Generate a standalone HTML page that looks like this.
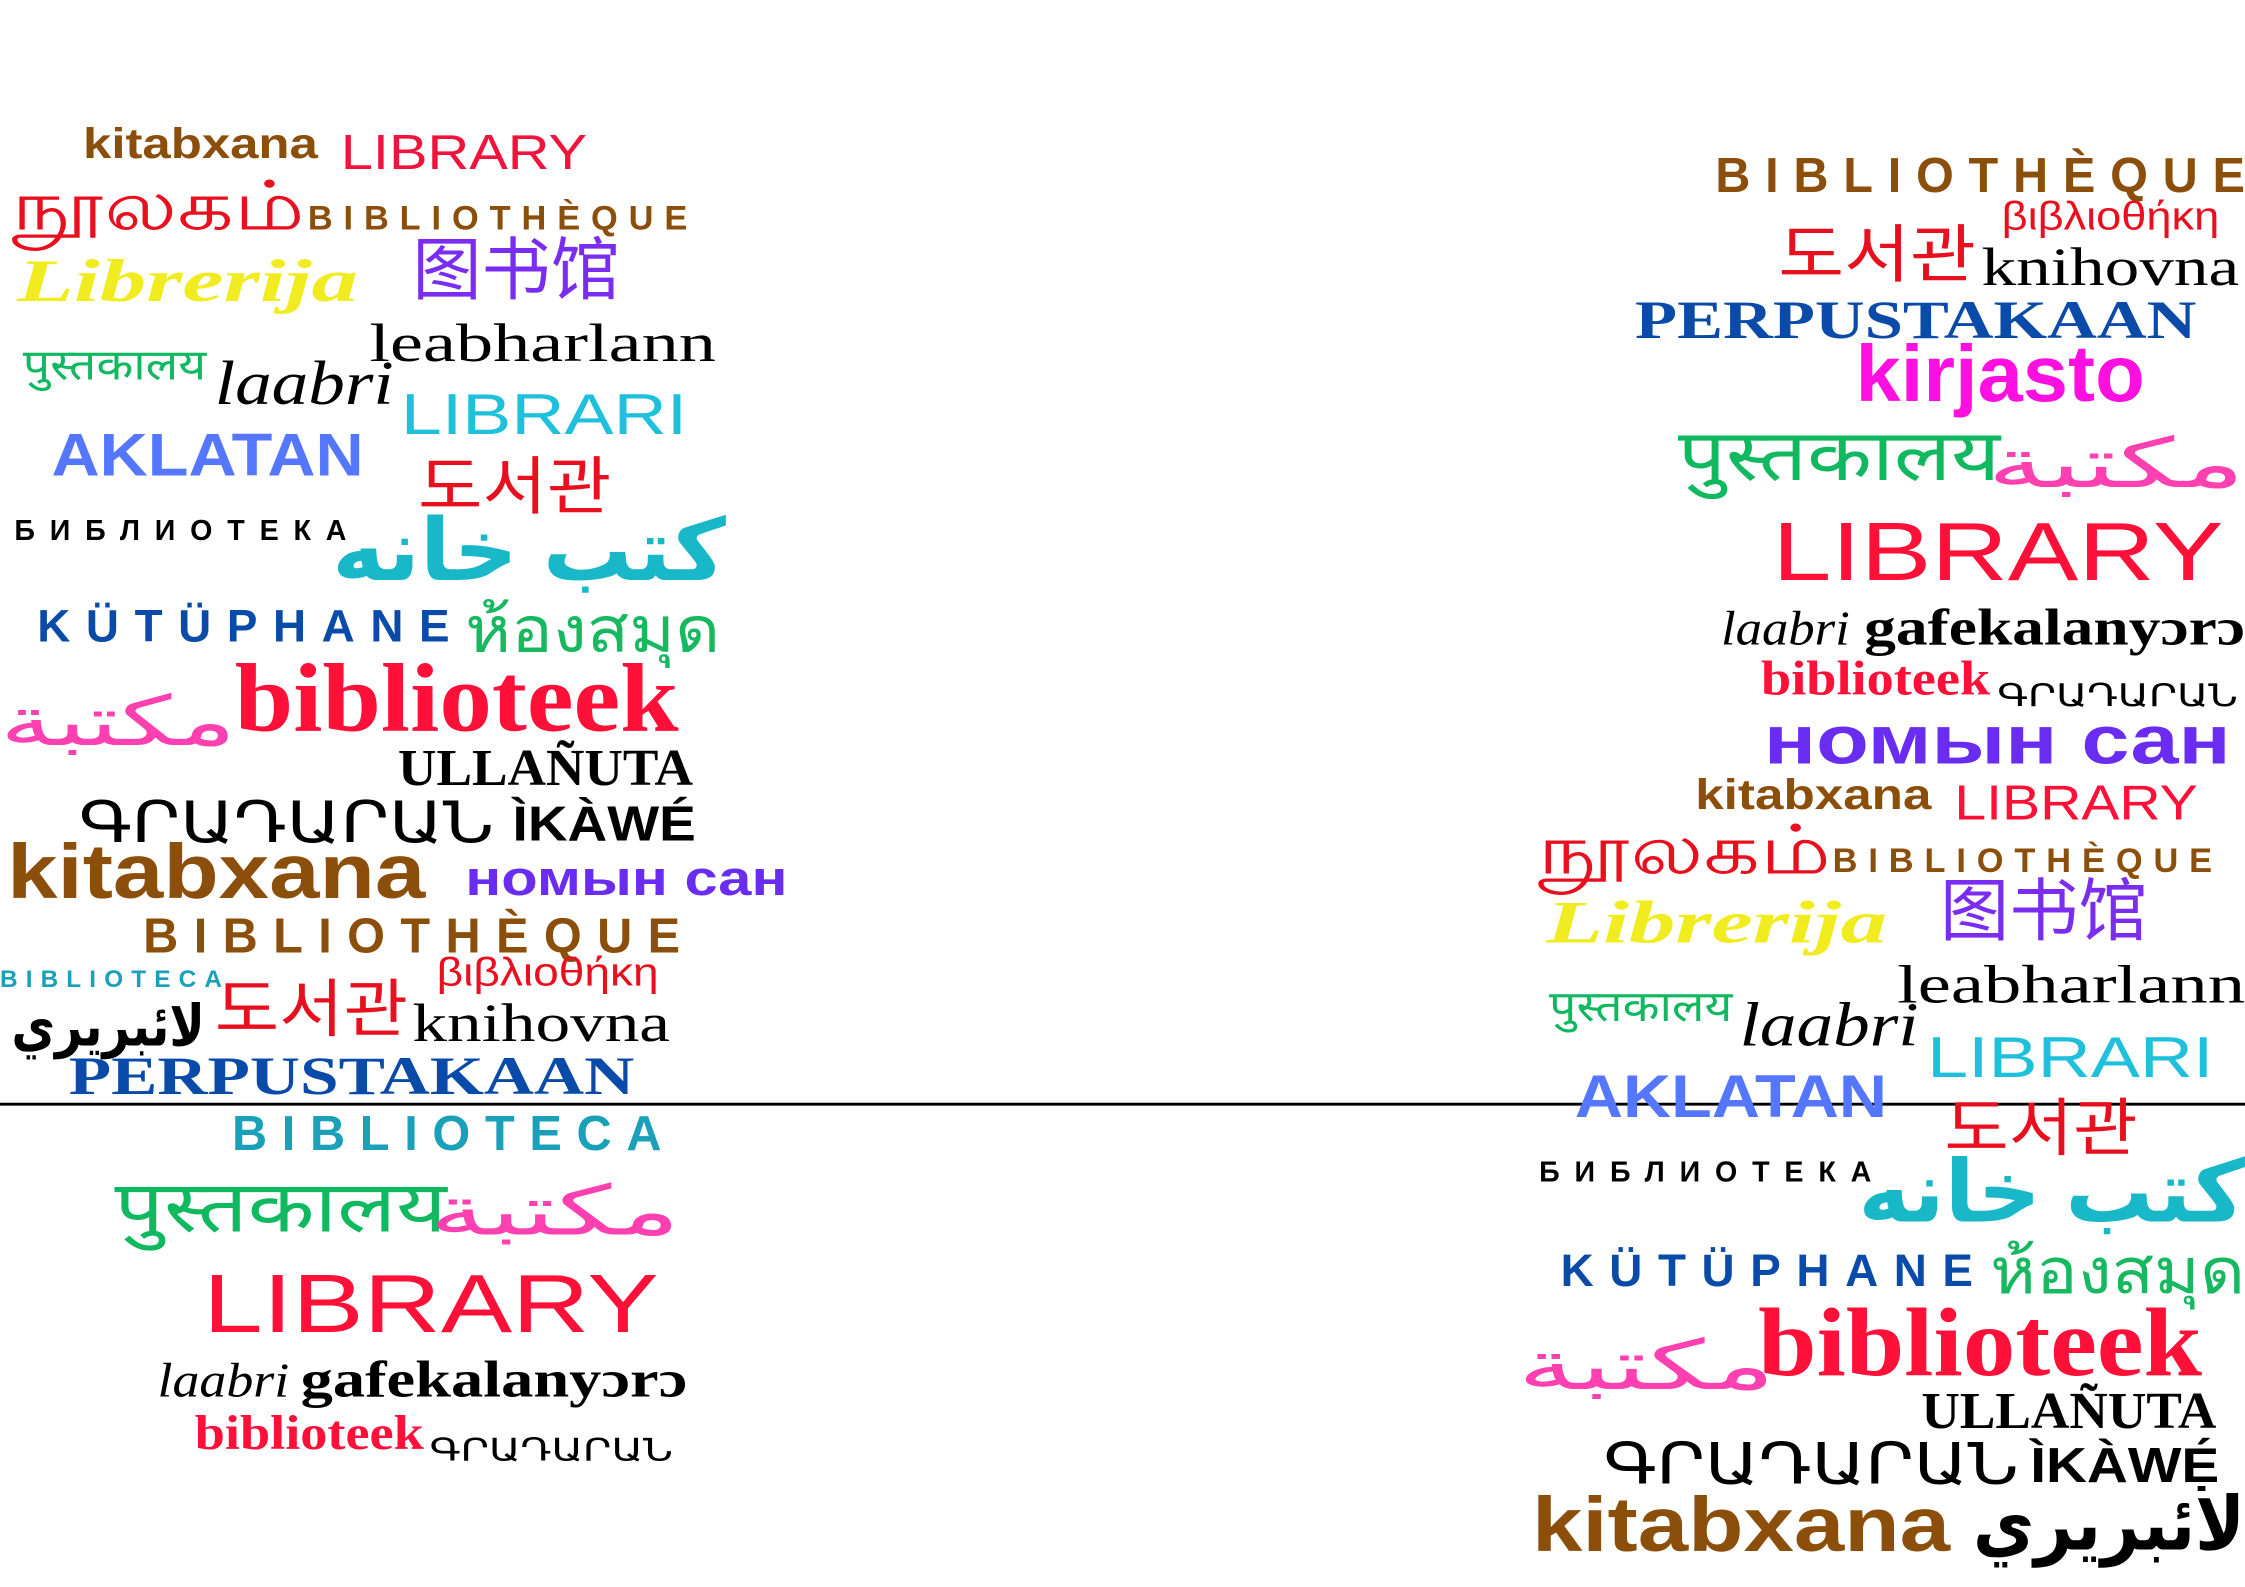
<!DOCTYPE html>
<html><head><meta charset="utf-8">
<style>
html,body{margin:0;padding:0;background:#fff;}
svg{display:block;}
.s{font-family:"Liberation Sans","Noto Sans CJK KR","DejaVu Sans",sans-serif;}
.sf{font-family:"Liberation Serif","DejaVu Serif",serif;}
</style></head>
<body>
<svg width="2245" height="1587" viewBox="0 0 1568 1108" xmlns="http://www.w3.org/2000/svg">
<rect width="1568" height="1108" fill="#fff"/>
<line x1="0" y1="771" x2="1568" y2="771" stroke="#000" stroke-width="2"/>
<g id="words"></g>
</svg>
<script>
// [text, x, baseline, width, size, color, weight, family, italic, spaced]
const words = [
["kitabxana",58,110,164,30,"#8B4F0B","bold","s",0,0],
["LIBRARY",238,118,172,34,"#f0143c","normal","s",0,0],
["நூலகம்",8,160,205,48,"#e8101e","normal","s",0,0],
["BIBLIOTHÈQUE",215,160,265,24,"#8B4F0B","bold","s",0,1],
["Librerija",12,210,238,42,"#f0ec20","bold","sf",1,0],
["图书馆",288,205,145,48,"#7a2cf0","normal","s",0,0],
["leabharlann",258,252,242,38,"#000","normal","sf",0,0],
["पुस्तकालय",16,265,128,30,"#10b860","normal","s",0,0],
["laabri",150,282,125,44,"#000","normal","sf",1,0],
["LIBRARI",280,303,200,40,"#1ec0dc","normal","s",0,0],
["AKLATAN",36,332,218,42,"#5577ff","bold","s",0,0],
["도서관",292,355,135,44,"#e8101e","normal","s",0,0],
["БИБЛИОТЕКА",10,377,232,20,"#000","bold","s",0,1],
["كتب خانه",232,405,275,60,"#18b8c8","bold","s",0,0],
["KÜTÜPHANE",26,448,288,32,"#0a4aa8","bold","s",0,1],
["ห้องสมุด",325,455,178,44,"#18b860","normal","s",0,0],
["مكتبة",0,520,165,48,"#ff40b0","normal","s",0,0],
["biblioteek",164,510,310,68,"#ff1038","bold","sf",0,0],
["ULLAÑUTA",278,548,206,36,"#000","bold","sf",0,0],
["ԳՐԱԴԱՐԱՆ",55,588,290,40,"#000","normal","s",0,0],
["ÌKÀWÉ",358,587,128,34,"#000","bold","s",0,0],
["kitabxana",5,627,292,54,"#8B4F0B","bold","s",0,0],
["номын сан",325,625,225,34,"#6a2cf0","bold","s",0,0],
["BIBLIOTHÈQUE",100,665,375,34,"#8B4F0B","bold","s",0,1],
["BIBLIOTECA",0,689,155,17,"#1aa0b8","bold","s",0,1],
["βιβλιοθήκη",305,688,155,28,"#e8101e","normal","s",0,0],
["도서관",150,720,135,44,"#e8101e","normal","s",0,0],
["لائبريري",8,730,135,40,"#000","bold","s",0,0],
["knihovna",288,727,180,38,"#000","normal","sf",0,0],
["PERPUSTAKAAN",48,764,395,38,"#0a4aa8","bold","sf",0,0],
["BIBLIOTECA",162,803,300,34,"#1aa0b8","bold","s",0,1],
["पुस्तकालय",80,860,232,50,"#10b860","normal","s",0,0],
["مكتبة",300,862,175,48,"#ff40b0","normal","s",0,0],
["LIBRARY",142,930,318,58,"#ff1038","normal","s",0,0],
["laabri",110,975,92,34,"#000","normal","sf",1,0],
["gafekalanyɔrɔ",210,975,270,36,"#000","bold","sf",0,0],
["biblioteek",136,1012,160,34,"#ff1038","bold","sf",0,0],
["ԳՐԱԴԱՐԱՆ",300,1020,170,22,"#000","normal","s",0,0],
["BIBLIOTHÈQUE",1198,134,370,34,"#8B4F0B","bold","s",0,1],
["βιβλιοθήκη",1398,160,152,28,"#e8101e","normal","s",0,0],
["도서관",1242,193,138,44,"#e8101e","normal","s",0,0],
["knihovna",1384,199,180,38,"#000","normal","sf",0,0],
["PERPUSTAKAAN",1142,236,392,38,"#0a4aa8","bold","sf",0,0],
["kirjasto",1296,280,202,56,"#ff10e0","bold","s",0,0],
["पुस्तकालय",1172,335,225,50,"#10b860","normal","s",0,0],
["مكتبة",1388,340,180,48,"#ff40b0","normal","s",0,0],
["LIBRARY",1238,405,315,58,"#ff1038","normal","s",0,0],
["laabri",1202,450,90,34,"#000","normal","sf",1,0],
["gafekalanyɔrɔ",1302,450,266,36,"#000","bold","sf",0,0],
["biblioteek",1230,485,160,34,"#ff1038","bold","sf",0,0],
["ԳՐԱԴԱՐԱՆ",1395,493,168,22,"#000","normal","s",0,0],
["номын сан",1232,533,326,48,"#6a2cf0","bold","s",0,0],
["kitabxana",1184,565,165,30,"#8B4F0B","bold","s",0,0],
["LIBRARY",1365,572,170,34,"#ff1038","normal","s",0,0],
["நூலகம்",1074,610,205,48,"#e8101e","normal","s",0,0],
["BIBLIOTHÈQUE",1280,609,265,24,"#8B4F0B","bold","s",0,1],
["Librerija",1080,658,238,42,"#f0ec20","bold","sf",1,0],
["图书馆",1355,653,145,48,"#7a2cf0","normal","s",0,0],
["leabharlann",1325,700,243,38,"#000","normal","sf",0,0],
["पुस्तकालय",1082,713,128,30,"#10b860","normal","s",0,0],
["laabri",1215,730,125,44,"#000","normal","sf",1,0],
["LIBRARI",1346,752,200,40,"#1ec0dc","normal","s",0,0],
["AKLATAN",1100,780,218,42,"#5577ff","bold","s",0,0],
["도서관",1358,803,135,44,"#e8101e","normal","s",0,0],
["БИБЛИОТЕКА",1075,825,232,20,"#000","bold","s",0,1],
["كتب خانه",1298,853,270,60,"#18b8c8","bold","s",0,0],
["KÜTÜPHANE",1090,898,288,32,"#0a4aa8","bold","s",0,1],
["ห้องสมุด",1390,903,178,44,"#18b860","normal","s",0,0],
["مكتبة",1060,970,180,48,"#ff40b0","normal","s",0,0],
["biblioteek",1228,960,310,68,"#ff1038","bold","sf",0,0],
["ULLAÑUTA",1342,997,206,36,"#000","bold","sf",0,0],
["ԳՐԱԴԱՐԱՆ",1120,1036,290,40,"#000","normal","s",0,0],
["ÌKÀWẸ́",1418,1035,132,34,"#000","bold","s",0,0],
["kitabxana",1070,1083,292,54,"#8B4F0B","bold","s",0,0],
["لائبريري",1378,1082,190,52,"#000","bold","s",0,0]
];
const g = document.getElementById('words');
const NS = 'http://www.w3.org/2000/svg';
words.forEach(w => {
  const t = document.createElementNS(NS, 'text');
  
  
  t.setAttribute('x', w[1]);
  t.setAttribute('y', w[2]);
  t.setAttribute('textLength', w[3]);
  t.setAttribute('lengthAdjust', w[9] ? 'spacing' : 'spacingAndGlyphs');
  t.setAttribute('font-size', w[4]);
  t.setAttribute('fill', w[5]);
  t.setAttribute('font-weight', w[6]);
  t.setAttribute('class', w[7]);
  if (w[8]) t.setAttribute('font-style', 'italic');
  t.textContent = w[0];
  g.appendChild(t);
});
</script>
</body></html>
